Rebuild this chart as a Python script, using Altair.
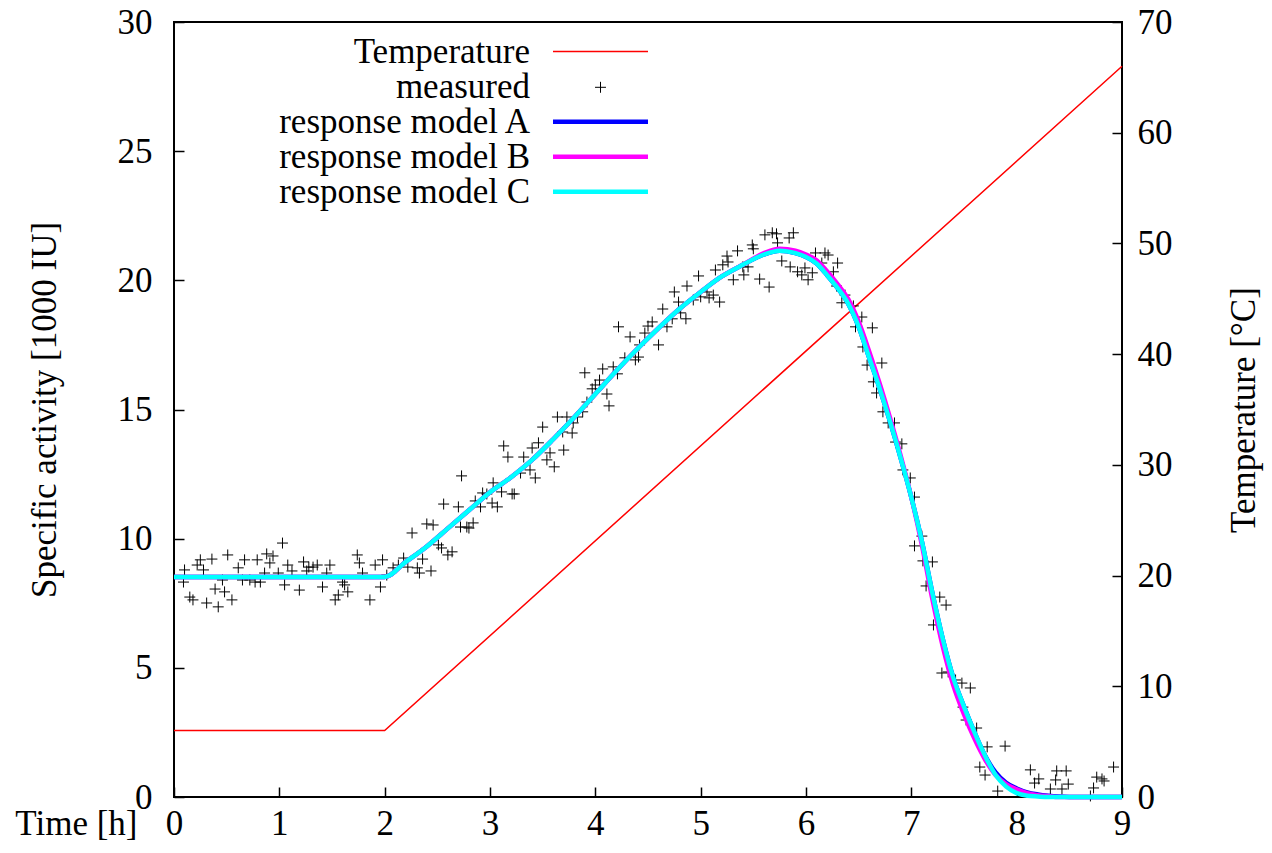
import altair as alt
import pandas as pd

# ---------------- data ----------------
# measured points (time [h], specific activity [1000 IU]), in segments
t_seg1 = [0.09, 0.10, 0.15, 0.18, 0.22, 0.25, 0.28, 0.31, 0.36, 0.39, 0.42, 0.46, 0.48, 0.51, 0.55,
          0.61, 0.65, 0.67, 0.72, 0.77, 0.79, 0.82, 0.86, 0.88, 0.91, 0.94, 0.99, 1.03, 1.05, 1.08,
          1.12, 1.19, 1.23, 1.26, 1.28, 1.32, 1.36, 1.41, 1.45, 1.48, 1.53, 1.56, 1.60, 1.62, 1.65,
          1.74, 1.76, 1.79, 1.86, 1.91, 1.96, 1.98, 2.02]
v_seg1 = [8.32, 8.79, 7.74, 7.63, 8.98, 9.18, 8.79, 7.51, 9.21, 8.05, 7.36, 8.40, 7.94, 9.37, 7.63,
          8.87, 8.40, 9.18, 8.40, 8.32, 9.18, 8.32, 8.67, 9.41, 9.06, 9.33, 8.67, 9.83, 8.21, 8.98,
          8.75, 8.01, 9.10, 8.75, 8.90, 8.90, 8.98, 8.13, 8.67, 8.98, 7.63, 7.82, 8.32, 8.21, 7.94,
          9.37, 9.06, 8.67, 7.63, 8.98, 8.13, 9.18, 8.59]

t_seg2 = [2.08, 2.13, 2.18, 2.22, 2.26, 2.31, 2.33, 2.36, 2.40, 2.44, 2.46, 2.51, 2.54, 2.56, 2.60,
          2.64, 2.70, 2.72, 2.73, 2.78, 2.80, 2.84, 2.86, 2.91, 2.93, 2.97, 3.02, 3.03, 3.07, 3.11,
          3.13, 3.17, 3.21, 3.23]
v_seg2 = [8.87, 8.98, 9.25, 8.90, 10.22, 8.87, 8.67, 9.21, 10.57, 8.75, 10.53, 9.76, 9.64, 11.34, 9.37,
          9.49, 11.23, 10.45, 12.43, 10.45, 10.41, 10.61, 11.46, 11.23, 11.77, 11.73, 11.38, 12.16, 11.23, 11.81,
          13.59, 13.16, 11.73, 11.73]

t_seg3 = [3.29, 3.32, 3.38, 3.40, 3.43, 3.46, 3.50, 3.54, 3.57, 3.61, 3.64, 3.69, 3.70, 3.73, 3.78,
          3.79, 3.83, 3.88, 3.90, 3.92, 3.97, 4.00, 4.04, 4.07, 4.11, 4.13, 4.17, 4.21, 4.22]
v_seg3 = [12.54, 13.16, 12.66, 13.51, 12.35, 13.71, 14.32, 13.05, 13.32, 12.78, 14.71, 14.13, 13.43, 14.71, 14.09,
          14.48, 14.71, 14.91, 16.42, 15.29, 15.80, 15.95, 16.14, 16.57, 15.60, 15.14, 16.65, 16.38, 18.20]

t_seg4 = [4.28, 4.33, 4.38, 4.41, 4.42, 4.47, 4.50, 4.54, 4.60, 4.64, 4.68, 4.73, 4.75, 4.79, 4.81,
          4.86, 4.87, 4.93, 4.98, 5.00, 5.06, 5.08, 5.12, 5.14, 5.18, 5.21, 5.25, 5.26, 5.31, 5.35,
          5.40, 5.41, 5.45, 5.49, 5.50, 5.56, 5.61, 5.65, 5.68, 5.72, 5.73, 5.77, 5.84, 5.85, 5.88,
          5.92, 5.96, 5.99, 6.02, 6.06, 6.09, 6.15, 6.18, 6.21, 6.26, 6.30]
v_seg4 = [17.00, 17.81, 16.92, 17.03, 17.50, 17.96, 18.23, 18.39, 17.50, 18.89, 18.20, 18.51, 19.55, 19.16, 18.74,
          18.51, 19.78, 19.24, 20.17, 19.36, 19.55, 19.32, 19.43, 20.40, 19.16, 20.60, 20.94, 20.71, 20.02, 21.14,
          20.52, 20.21, 20.52, 21.37, 21.22, 20.05, 21.76, 19.74, 21.84, 21.80, 21.45, 20.75, 21.64, 20.52, 21.84,
          20.33, 20.21, 20.48, 20.02, 20.29, 21.06, 20.67, 21.06, 20.98, 20.33, 20.67]

t_seg5 = [6.29, 6.37, 6.34, 6.45, 6.53, 6.47, 6.63, 6.54, 6.58, 6.72, 6.64, 6.67, 6.73, 6.78, 6.84,
          6.85, 6.91, 6.92, 6.99, 7.03, 7.10]
v_seg5 = [19.78, 19.43, 19.13, 19.01, 18.58, 18.20, 18.16, 17.42, 16.72, 16.80, 16.07, 15.64, 14.91, 14.48, 14.48,
          13.74, 13.67, 12.66, 12.35, 11.61, 10.10]

t_seg6 = [7.03, 7.11, 7.20, 7.14, 7.27, 7.33, 7.21, 7.29, 7.35, 7.42, 7.48, 7.56, 7.49, 7.52, 7.62,
          7.72, 7.89, 7.65, 7.70, 7.82]
v_seg6 = [9.72, 9.14, 9.10, 8.17, 7.74, 7.43, 6.66, 4.80, 4.84, 4.53, 4.41, 4.22, 3.48, 2.98, 2.67,
          1.94, 1.97, 1.16, 0.85, 0.23]

t_seg7 = [8.13, 8.21, 8.17, 8.38, 8.47, 8.37, 8.49, 8.32, 8.43, 8.73, 8.76, 8.81, 8.83, 8.92, 8.70]
v_seg7 = [1.05, 0.70, 0.54, 1.01, 1.01, 0.66, 0.50, 0.31, 0.31, 0.35, 0.77, 0.70, 0.62, 1.16, 0.04]

# response models (time [h], specific activity)
model_t = [0, 2.0, 2.2, 2.4, 2.6, 2.8, 3.0, 3.2, 3.4, 3.6,
           3.8, 4.0, 4.2, 4.4, 4.6, 4.8, 5.0, 5.2, 5.4, 5.6,
           5.75, 5.9, 6.0, 6.1, 6.2, 6.3, 6.4, 6.5, 6.6, 6.7,
           6.8, 6.9, 7.0, 7.1, 7.2, 7.3, 7.4, 7.5, 7.6, 7.7,
           7.8, 7.9, 8.0, 8.1, 8.2, 8.3, 8.4, 8.6, 9.0]
model_c = [8.52, 8.52, 9.1, 9.7, 10.4, 11.1, 11.8, 12.38, 13.05, 13.85,
           14.7, 15.6, 16.5, 17.35, 18.15, 18.9, 19.55, 20.15, 20.6, 21.0,
           21.15, 21.05, 20.9, 20.65, 20.2, 19.7, 19.1, 18.2, 17.0, 15.8,
           14.5, 13.1, 11.6, 9.9, 7.9, 6.1, 4.6, 3.5, 2.5, 1.6,
           0.85, 0.4, 0.15, 0.05, 0.02, 0.0, 0.0, 0.0, 0.0]
model_a = [8.52, 8.52, 9.1, 9.7, 10.4, 11.1, 11.8, 12.38, 13.05, 13.85,
           14.7, 15.6, 16.5, 17.35, 18.15, 18.9, 19.55, 20.15, 20.6, 21.0,
           21.15, 21.05, 20.9, 20.65, 20.2, 19.7, 19.1, 18.2, 17.0, 15.8,
           14.5, 13.1, 11.6, 9.9, 7.9, 6.1, 4.6, 3.5, 2.5, 1.6,
           0.95, 0.55, 0.33, 0.18, 0.10, 0.05, 0.02, 0.0, 0.0]
model_b = [8.52, 8.52, 9.1, 9.7, 10.4, 11.1, 11.8, 12.38, 13.05, 13.85,
           14.7, 15.6, 16.5, 17.35, 18.15, 18.9, 19.55, 20.15, 20.6, 21.05,
           21.22, 21.15, 21.0, 20.78, 20.35, 19.85, 19.28, 18.4, 17.25, 16.0,
           14.65, 13.2, 11.6, 9.75, 7.65, 5.8, 4.3, 3.2, 2.25, 1.45,
           0.85, 0.5, 0.3, 0.15, 0.07, 0.03, 0.0, 0.0, 0.0]

# temperature program
temp_t = [0, 2, 9]
temp_c = [6, 6, 66]

x_ticks = [0, 1, 2, 3, 4, 5, 6, 7, 8, 9]
left_ticks = [0, 5, 10, 15, 20, 25, 30]
right_ticks = [0, 10, 20, 30, 40, 50, 60, 70]

legend_labels = ["Temperature", "measured", "response model A", "response model B", "response model C"]

# ---------------- build ----------------
meas_t = t_seg1 + t_seg2 + t_seg3 + t_seg4 + t_seg5 + t_seg6 + t_seg7
meas_v = v_seg1 + v_seg2 + v_seg3 + v_seg4 + v_seg5 + v_seg6 + v_seg7
assert len(meas_t) == len(meas_v)

meas_df = pd.DataFrame({"t": meas_t, "v": meas_v})
temp_df = pd.DataFrame({"t": temp_t, "temp": temp_c})
mod_a = pd.DataFrame({"t": model_t, "v": model_a})
mod_b = pd.DataFrame({"t": model_t, "v": model_b})
mod_c = pd.DataFrame({"t": model_t, "v": model_c})
one = pd.DataFrame({"k": [0]})

FONT = "Liberation Serif"
FS = 35
PLUS = "M-1,0L1,0M0,-1L0,1"

X = alt.X("t:Q", scale=alt.Scale(domain=[0, 9], nice=False, zero=False),
          axis=alt.Axis(values=x_ticks, title="Time [h]", format="d", offset=-10, tickSize=10,
                        domain=False, grid=False, labelPadding=37, labelBaseline="alphabetic",
                        labelFlush=False, labelOverlap=False,
                        titleX=-37, titleY=47, titleAlign="right", titleBaseline="alphabetic",
                        titleAngle=0))

Y_act = alt.Y("v:Q", scale=alt.Scale(domain=[0, 30], nice=False),
              axis=alt.Axis(orient="left", values=left_ticks, format="d",
                            title="Specific activity [1000 IU]", offset=-10, tickSize=10,
                            domain=False, grid=False, labelPadding=22, labelFlush=False,
                            labelOverlap=False, titleAngle=270, titleX=-129, titleY=387.5,
                            titleAlign="center", titleBaseline="alphabetic"))

Y_temp = alt.Y("temp:Q", scale=alt.Scale(domain=[0, 70], nice=False),
               axis=alt.Axis(orient="right", values=right_ticks, format="d",
                             title="Temperature [°C]", offset=-10, tickSize=10,
                             domain=False, grid=False, labelPadding=15, labelFlush=False,
                             labelOverlap=False, titleAngle=270, titleX=142, titleY=387.5,
                             titleAlign="center", titleBaseline="alphabetic"))

temp_line = alt.Chart(temp_df).mark_line(color="#ff0000", strokeWidth=1.5).encode(x=X, y=Y_temp)

points = alt.Chart(meas_df).mark_point(shape=PLUS, size=120, filled=False, color="black",
                                        strokeWidth=1, opacity=1).encode(x=X, y=Y_act)
line_a = alt.Chart(mod_a).mark_line(color="#0000ff", strokeWidth=4.5, interpolate="monotone").encode(x=X, y=Y_act)
line_b = alt.Chart(mod_b).mark_line(color="#ff00ff", strokeWidth=4.5, interpolate="monotone").encode(x=X, y=Y_act)
line_c = alt.Chart(mod_c).mark_line(color="#00ffff", strokeWidth=4.5, interpolate="monotone").encode(x=X, y=Y_act)

activity = alt.layer(points, line_a, line_b, line_c)

# key (gnuplot style: text right-aligned, sample on the right)
row_y = [29.5, 65.3, 99.7, 134.7, 169.7]
key_layers = []
for lab, yy in zip(legend_labels, row_y):
    key_layers.append(
        alt.Chart(one).mark_text(align="right", baseline="middle", font=FONT, fontSize=FS,
                                 color="black").encode(x=alt.value(356), y=alt.value(yy), text=alt.value(lab)))
key_layers.append(alt.Chart(one).mark_rule(color="#ff0000", strokeWidth=1.5).encode(
    x=alt.value(379), x2=alt.value(474), y=alt.value(row_y[0])))
key_layers.append(alt.Chart(one).mark_point(shape=PLUS, size=120, filled=False, color="black",
                                            strokeWidth=1, opacity=1).encode(
    x=alt.value(426.5), y=alt.value(row_y[1])))
for col, yy in zip(["#0000ff", "#ff00ff", "#00ffff"], row_y[2:]):
    key_layers.append(alt.Chart(one).mark_rule(color=col, strokeWidth=4.5).encode(
        x=alt.value(379), x2=alt.value(474), y=alt.value(yy)))

chart = alt.layer(temp_line, activity, *key_layers).resolve_scale(y="independent").properties(
    width=948, height=775,
    autosize=alt.AutoSizeParams(type="none"),
    padding={"left": 166, "top": 14, "right": 142, "bottom": 46},
    background="white",
).configure_view(stroke="black", strokeWidth=2).configure_axis(
    labelFont=FONT, labelFontSize=FS, labelColor="black",
    titleFont=FONT, titleFontSize=FS, titleFontWeight="normal", titleColor="black",
    tickColor="black", tickWidth=1.5,
)

chart.save("out.html", embed_options={"renderer": "svg", "actions": False})
